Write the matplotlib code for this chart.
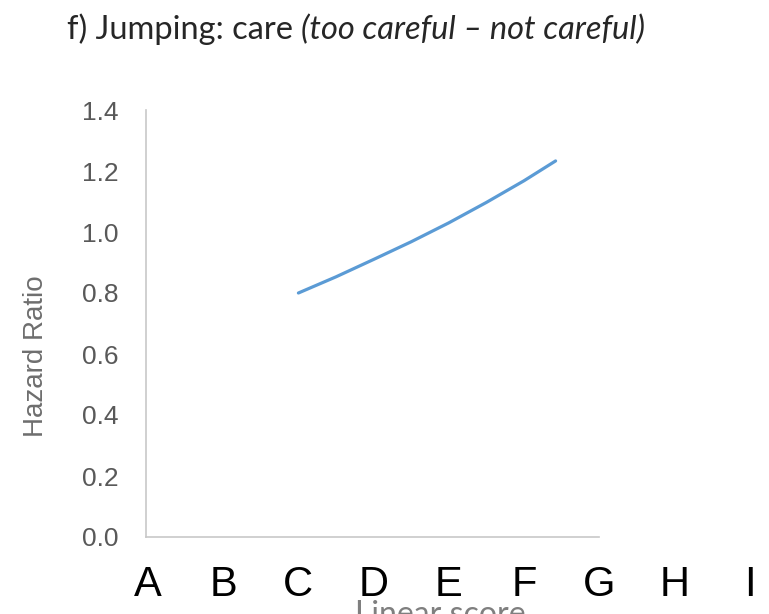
import matplotlib.pyplot as plt

# letter positions along the bottom (A=0 ... I=8) and values
letters = ['A', 'B', 'C', 'D', 'E', 'F', 'G', 'H', 'I']
score = [2.0, 2.5, 3.0, 3.5, 4.0, 4.5, 5.0, 5.42]
hazard = [0.80, 0.853, 0.91, 0.968, 1.03, 1.097, 1.168, 1.233]
yticks = [0.0, 0.2, 0.4, 0.6, 0.8, 1.0, 1.2, 1.4]

fig = plt.figure(figsize=(7.69, 6.14), dpi=100)

# axes placed in pixels: A at x=148, spacing 75 px; y 0.0 at 537, 1.4 at 110
W, H = 769, 614
x0_px, step = 148, 75.2
xmin, xmax = -0.02, 8.2
left = x0_px + xmin * step
right = x0_px + xmax * step
ax = fig.add_axes([left / W, (H - 537) / H, (right - left) / W, (537 - 110) / H])

ax.plot(score, hazard, color='#5B9BD5', linewidth=2.3, solid_capstyle='round')

ax.set_xlim(xmin, xmax)
ax.set_ylim(0, 1.4)

for s in ['top', 'right']:
    ax.spines[s].set_visible(False)
for s in ['left', 'bottom']:
    ax.spines[s].set_color('#C8C8C8')
    ax.spines[s].set_linewidth(1.2)
ax.spines['bottom'].set_bounds(xmin, 6.0)

ax.set_yticks(yticks)
ax.set_yticklabels([f'{v:.1f}' for v in yticks])
ax.tick_params(axis='y', length=0, pad=20, labelsize=19, labelcolor='#595959')
ax.set_xticks(range(len(letters)))
ax.set_xticklabels(letters)
ax.tick_params(axis='x', length=0, pad=20, labelsize=30, labelcolor='black')
for t in ax.get_xticklabels() + ax.get_yticklabels():
    t.set_fontfamily('Liberation Sans')

# y label sits a bit below the axes centre in the original
fig.text(36 / W, 1 - 356 / H, 'Hazard Ratio', fontsize=20, color='#6E6E6E',
         family='Liberation Sans', rotation=90, ha='center', va='center')

# x label, cut off by the bottom edge as in the original
fig.text(440 / W, 1 - 624 / H, 'Linear score', fontsize=23, color='#7F7F7F',
         family='Lato', ha='center', va='baseline')

# title with italic part
t1 = fig.text(67 / W, 1 - 39 / H, 'f) Jumping: care ', fontsize=23.5, family='Lato',
              color='#262626', va='baseline')
fig.canvas.draw()
bb = t1.get_window_extent()
fig.text(bb.x1 / W, 1 - 39 / H, '(too careful \u2013 not careful)', fontsize=23.5,
         family='Lato', style='italic', color='#262626', va='baseline')

fig.savefig('out.png', dpi=100)
